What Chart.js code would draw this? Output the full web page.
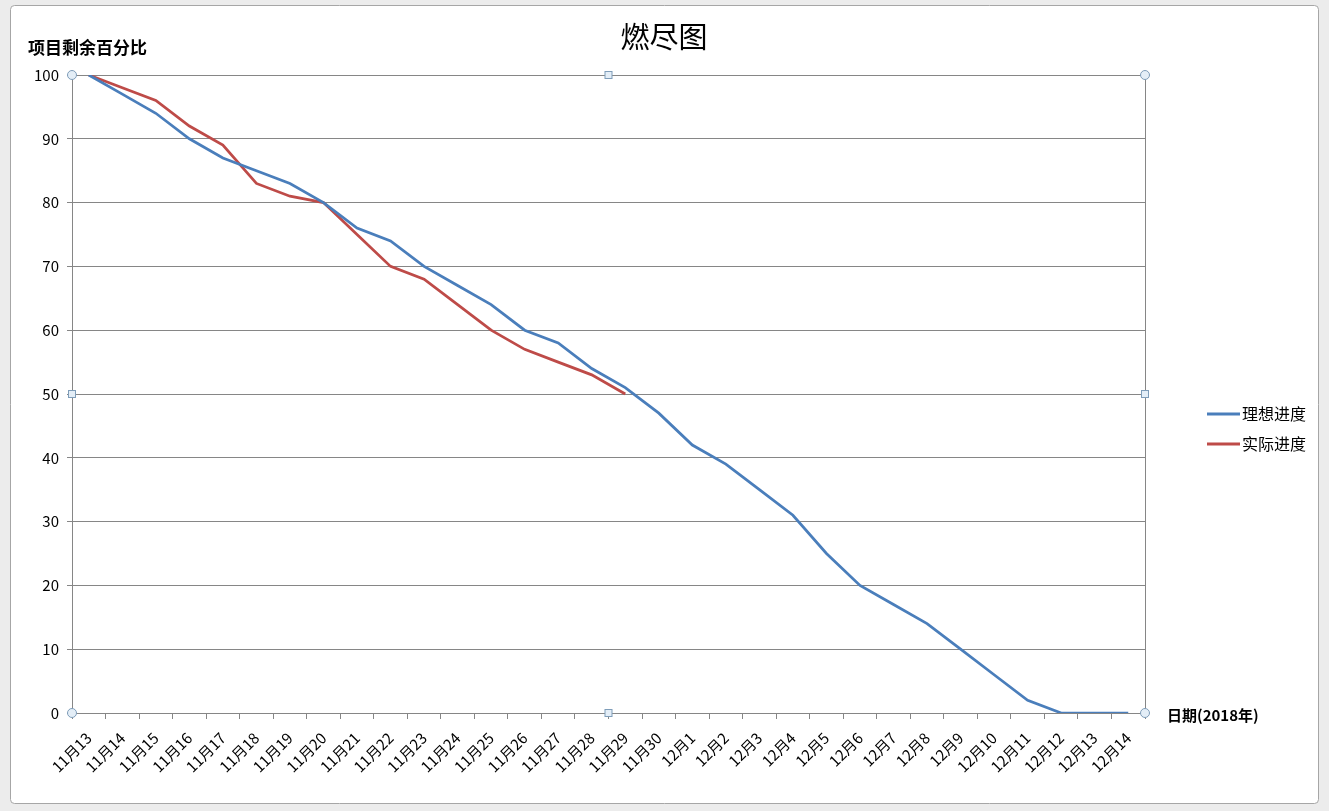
<!DOCTYPE html>
<html>
<head>
<meta charset="utf-8">
<title>燃尽图</title>
<script src="https://cdn.jsdelivr.net/npm/chart.js@4.4.1/dist/chart.umd.min.js"></script>
<style>
  html, body { margin: 0; padding: 0; background: #ececec; }
  #wrap { position: relative; width: 1329px; height: 811px; }
</style>
</head>
<body>
<div id="wrap"><canvas id="burndown" width="1329" height="811"></canvas></div>
<script>
// Categories (dates)
const dates = [
  '11月13', '11月14', '11月15', '11月16', '11月17', '11月18', '11月19', '11月20',
  '11月21', '11月22', '11月23', '11月24', '11月25', '11月26', '11月27', '11月28',
  '11月29', '11月30', '12月1', '12月2', '12月3', '12月4', '12月5', '12月6',
  '12月7', '12月8', '12月9', '12月10', '12月11', '12月12', '12月13', '12月14'
];

// Ideal progress (remaining %)
const idealProgress = [
  100, 97, 94, 90, 87, 85, 83, 80, 76, 74, 70, 67, 64, 60, 58, 54,
  51, 47, 42, 39, 35, 31, 25, 20, 17, 14, 10, 6, 2, 0, 0, 0
];

// Actual progress (remaining %), stops at 11月29
const actualProgress = [
  100, 98, 96, 92, 89, 83, 81, 80, 75, 70, 68, 64, 60, 57, 55, 53, 50
];

const yTicks = [0, 10, 20, 30, 40, 50, 60, 70, 80, 90, 100];

const chartTitle = '燃尽图';
const yTitle = '项目剩余百分比';
const xTitle = '日期(2018年)';

const FONT = '"Noto Sans CJK SC", "Noto Sans", sans-serif';

// Panel background, titles, legend and the plot-area selection handles
const excelLook = {
    id: 'excelLook',
    beforeDraw(chart) {
        const c = chart.ctx;
        c.save();
        c.fillStyle = '#ececec';
        c.fillRect(0, 0, chart.width, chart.height);
        c.fillStyle = '#ffffff';
        c.strokeStyle = '#a6a6a6';
        c.lineWidth = 1;
        c.beginPath();
        c.roundRect(10.5, 5.5, 1308, 798, 4);
        c.fill();
        c.stroke();
        c.restore();
    },
    afterDraw(chart) {
        const c = chart.ctx;
        const a = chart.chartArea;
        c.save();

        // right border of plot area
        c.strokeStyle = '#868686';
        c.lineWidth = 1;
        c.beginPath();
        c.moveTo(Math.round(a.right) + 0.5, a.top);
        c.lineTo(Math.round(a.right) + 0.5, a.bottom);
        c.stroke();

        // title
        c.fillStyle = '#000';
        c.textAlign = 'center';
        c.textBaseline = 'middle';
        c.font = '29px ' + FONT;
        c.fillText(chartTitle, 664, 37);

        // axis titles
        c.textAlign = 'left';
        c.font = 'bold 17px ' + FONT;
        c.fillText(yTitle, 28, 48);
        c.font = 'bold 15px ' + FONT;
        c.fillText(xTitle, 1167, 715);

        // legend
        c.font = '16px ' + FONT;
        chart.data.datasets.forEach((ds, i) => {
            const y = 414 + i * 30;
            c.strokeStyle = ds.borderColor;
            c.lineWidth = 3;
            c.beginPath();
            c.moveTo(1207, y);
            c.lineTo(1240, y);
            c.stroke();
            c.fillStyle = '#000';
            c.fillText(ds.label, 1242, y);
        });

        // selection handles
        const midX = (a.left + a.right) / 2;
        const midY = (a.top + a.bottom) / 2;
        c.lineWidth = 1;
        c.strokeStyle = '#7f9db9';
        c.fillStyle = '#e4eef7';
        [[a.left, a.top], [a.right, a.top], [a.left, a.bottom], [a.right, a.bottom]].forEach(([x, y]) => {
            c.beginPath();
            c.arc(x, y, 4.5, 0, Math.PI * 2);
            c.fill();
            c.stroke();
        });
        [[midX, a.top], [midX, a.bottom], [a.left, midY], [a.right, midY]].forEach(([x, y]) => {
            c.fillRect(x - 3.5, y - 3.5, 7, 7);
            c.strokeRect(x - 3.5, y - 3.5, 7, 7);
        });
        c.restore();
    }
};

new Chart(document.getElementById('burndown'), {
    type: 'line',
    data: {
        labels: dates,
        datasets: [
            {
                label: '理想进度',
                data: idealProgress,
                borderColor: '#4a7ebb',
                backgroundColor: '#4a7ebb',
                borderWidth: 2.75,
                pointRadius: 0,
                tension: 0
            },
            {
                label: '实际进度',
                data: actualProgress,
                borderColor: '#be4b48',
                backgroundColor: '#be4b48',
                borderWidth: 2.75,
                pointRadius: 0,
                tension: 0
            }
        ]
    },
    options: {
        responsive: false,
        animation: false,
        layout: { padding: { top: 75, right: 184, left: 0, bottom: 0 } },
        scales: {
            x: {
                offset: true,
                grid: {
                    display: true,
                    drawOnChartArea: false,
                    drawTicks: true,
                    tickLength: 6,
                    color: '#868686',
                    offset: true
                },
                border: { color: '#868686' },
                ticks: {
                    color: '#000',
                    font: { family: FONT, size: 15 },
                    minRotation: 45,
                    maxRotation: 45,
                    autoSkip: false,
                    padding: 10
                },
                afterFit(scale) { scale.height = 98; }
            },
            y: {
                min: 0,
                max: 100,
                afterBuildTicks(scale) { scale.ticks = yTicks.map(v => ({ value: v })); },
                grid: { color: '#868686', tickLength: 5 },
                border: { color: '#868686' },
                ticks: {
                    color: '#000',
                    font: { family: FONT, size: 15 },
                    padding: 8
                },
                afterFit(scale) { scale.width = 72; }
            }
        },
        plugins: {
            legend: { display: false },
            tooltip: { enabled: false },
            title: { display: false }
        }
    },
    plugins: [excelLook]
});
</script>
</body>
</html>
